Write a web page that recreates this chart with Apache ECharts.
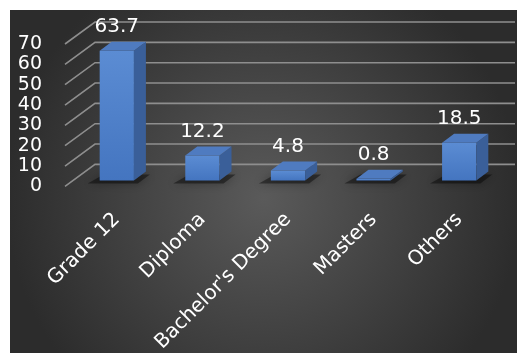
<!DOCTYPE html>
<html>
<head>
<meta charset="utf-8">
<script src="https://cdn.jsdelivr.net/npm/echarts@6/dist/echarts.min.js"></script>
<style>
html,body{margin:0;padding:0;background:#fff;}
#chart{width:520px;height:355px;}
</style>
</head>
<body>
<div id="chart"></div>
<script>
const categories = ["Grade 12", "Diploma", "Bachelor's Degree", "Masters", "Others"];
const values = [63.7, 12.2, 4.8, 0.8, 18.5];
const yTicks = [0, 10, 20, 30, 40, 50, 60, 70];

const chart = echarts.init(document.getElementById('chart'), null, {renderer: 'canvas'});
const FONT = 'DejaVu Sans';
const DX = 12, DY = 9, LIFT = 6;

function renderBar(params, api) {
  const idx = api.value(0), v = api.value(1);
  const base = api.coord([idx, 0]);
  const top = api.coord([idx, v]);
  const w = api.size([1, 0])[0] * 0.4;
  const x0 = base[0] - w / 2;
  const yb = base[1] - LIFT;
  const y0 = top[1] - LIFT;
  const h = yb - y0;
  const children = [];
  children.push({
    type: 'polygon',
    shape: {points: [[x0 - 12, yb + 3], [x0 + w + 4, yb + 3], [x0 + w + DX + 4, yb - DY + 3], [x0 + DX - 8, yb - DY + 3]]},
    style: {fill: 'rgba(0,0,0,0.42)', shadowBlur: 10, shadowColor: 'rgba(0,0,0,0.75)'}
  });
  children.push({
    type: 'rect',
    shape: {x: x0, y: y0, width: w, height: Math.max(h, 0.8)},
    style: {fill: new echarts.graphic.LinearGradient(0, 0, 0, 1, [
      {offset: 0, color: '#5b8cd3'}, {offset: 1, color: '#4475c0'}])}
  });
  children.push({
    type: 'polygon',
    shape: {points: [[x0 + w, y0], [x0 + w + DX, y0 - DY], [x0 + w + DX, yb - DY], [x0 + w, yb]]},
    style: {fill: '#3a5f99'}
  });
  children.push({
    type: 'polygon',
    shape: {points: [[x0, y0], [x0 + w, y0], [x0 + w + DX, y0 - DY], [x0 + DX, y0 - DY]]},
    style: {fill: '#4f7bc0'}
  });
  children.push({
    type: 'text',
    style: {
      text: String(v), x: base[0], y: y0 - DY - 15,
      align: 'center', verticalAlign: 'middle',
      fill: '#ffffff', font: '20px "' + FONT + '"'
    }
  });
  return {type: 'group', children: children};
}

function renderGrid(params, api) {
  const cs = params.coordSys;
  const y = api.coord([0, api.value(1)])[1];
  return {
    type: 'polyline',
    shape: {points: [[cs.x - 9, y], [cs.x + 21, y - 22], [cs.x + cs.width + 13, y - 22]]},
    style: {stroke: '#8e8e8e', lineWidth: 1.6, fill: null}
  };
}

chart.setOption({
  backgroundColor: '#ffffff',
  animation: false,
  graphic: [{
    type: 'rect', z: -10, silent: true,
    shape: {x: 10, y: 10, width: 507, height: 343},
    style: {fill: {type: 'radial', x: 0.5, y: 0.55, r: 0.75, colorStops: [
      {offset: 0, color: '#5a5a5a'}, {offset: 1, color: '#2c2c2c'}]}}
  }],
  grid: {left: 74, right: 18, top: 44, bottom: 167},
  xAxis: {
    type: 'category', data: categories,
    axisLine: {show: false}, axisTick: {show: false}, splitLine: {show: false},
    axisLabel: {rotate: 45, margin: 30, color: '#ffffff', fontSize: 20, fontFamily: FONT, interval: 0}
  },
  yAxis: {
    type: 'value', min: 0, max: 70, interval: 10,
    axisLine: {show: false}, axisTick: {show: false}, splitLine: {show: false},
    axisLabel: {margin: 32, color: '#ffffff', fontSize: 19, fontFamily: FONT}
  },
  series: [
    {type: 'custom', z: 1, renderItem: renderGrid, data: yTicks.map(t => [0, t]), silent: true},
    {type: 'custom', z: 2, renderItem: renderBar, data: values.map((v, i) => [i, v])}
  ]
});
</script>
</body>
</html>
